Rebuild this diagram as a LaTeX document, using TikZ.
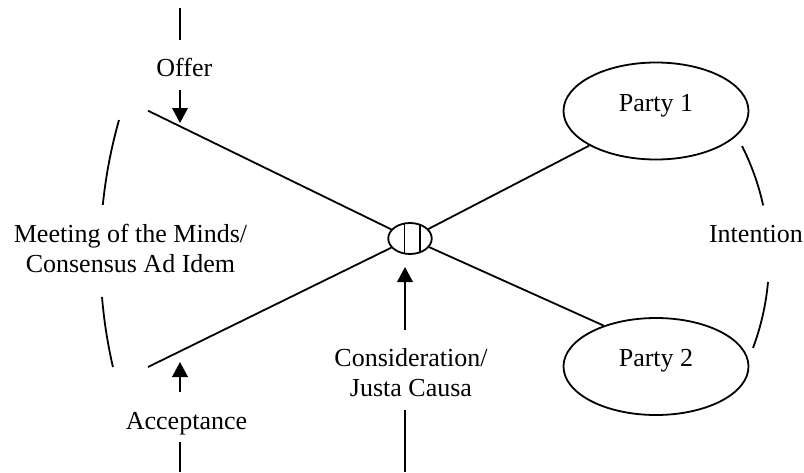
\documentclass[tikz,border=0pt]{standalone}
\usepackage{fontspec}
\setmainfont{Liberation Serif}
\usetikzlibrary{shapes.geometric,arrows.meta}

\begin{document}
\begin{tikzpicture}[x=0.5pt,y=-0.5pt,line width=0.9pt,font=\fontsize{13pt}{15pt}\selectfont,
party/.style={ellipse,draw,minimum width=92.5pt,minimum height=48.5pt,inner sep=0pt,text height=6pt,text depth=6pt},
knot/.style={ellipse,draw,minimum width=21.75pt,minimum height=15.5pt,inner sep=0pt,
  path picture={\draw ([xshift=-2.75pt]path picture bounding box.north) -- ([xshift=-2.75pt]path picture bounding box.south);
    \draw ([xshift=5pt]path picture bounding box.north) -- ([xshift=5pt]path picture bounding box.south);}},
term/.style={inner xsep=1pt,inner ysep=0pt,outer ysep=3.65pt,text height=14.7pt,text depth=3pt}]

\tikzset{tip/.style={-{Triangle[width=7.8pt,length=7.5pt]}}}

\useasboundingbox (0,0) rectangle (804,472);

\node[knot] (knot) at (410,238.5) {};
\node[party] (p1) at (656,111) {Party 1};
\node[party] (p2) at (656,366.5) {Party 2};

\node[term,anchor=base] (offer) at (184.3,76.7) {Offer};
\node[term,anchor=base] (acceptance) at (186.5,429) {Acceptance};
\node[term,anchor=base,align=center,text height=29.7pt] (consideration) at (411,396.7) {Consideration/\\Justa Causa};
\node[anchor=base,align=center] (minds) at (130.5,272) {Meeting of the Minds/\\Consensus Ad Idem};
\node[anchor=base] (intention) at (756,242) {Intention};

\coordinate (ul) at (148,110.7);
\coordinate (ll) at (148,367);
\draw (ul) -- (knot);
\draw (ll) -- (knot);
\draw (knot) -- (p1);
\draw (knot) -- (p2.142);

\coordinate (offtop) at (180,8);
\coordinate (offhit) at (180,123);
\draw (offtop) -- (offtop |- offer.north);
\draw[tip] (offer.south -| offhit) -- (offhit);

\coordinate (acchit) at (180,362);
\coordinate (accbot) at (180,472);
\draw[tip] (acceptance.north -| acchit) -- (acchit);
\draw (acceptance.south -| accbot) -- (accbot);

\coordinate (conhit) at (405,267);
\coordinate (conbot) at (405,472);
\draw[tip] (consideration.north -| conhit) -- (conhit);
\draw (consideration.south -| conbot) -- (conbot);

% brackets round the two side labels
\draw (119,120) arc[start angle=195.8,end angle=185.8,radius=496];
\draw (102,297) arc[start angle=175.2,end angle=167,radius=496];
\draw (742,146) arc[start angle=-26.8,end angle=-12.45,radius=252.3];
\draw (768,282) arc[start angle=5.1,end angle=20.5,radius=252.3];

\end{tikzpicture}
\end{document}
